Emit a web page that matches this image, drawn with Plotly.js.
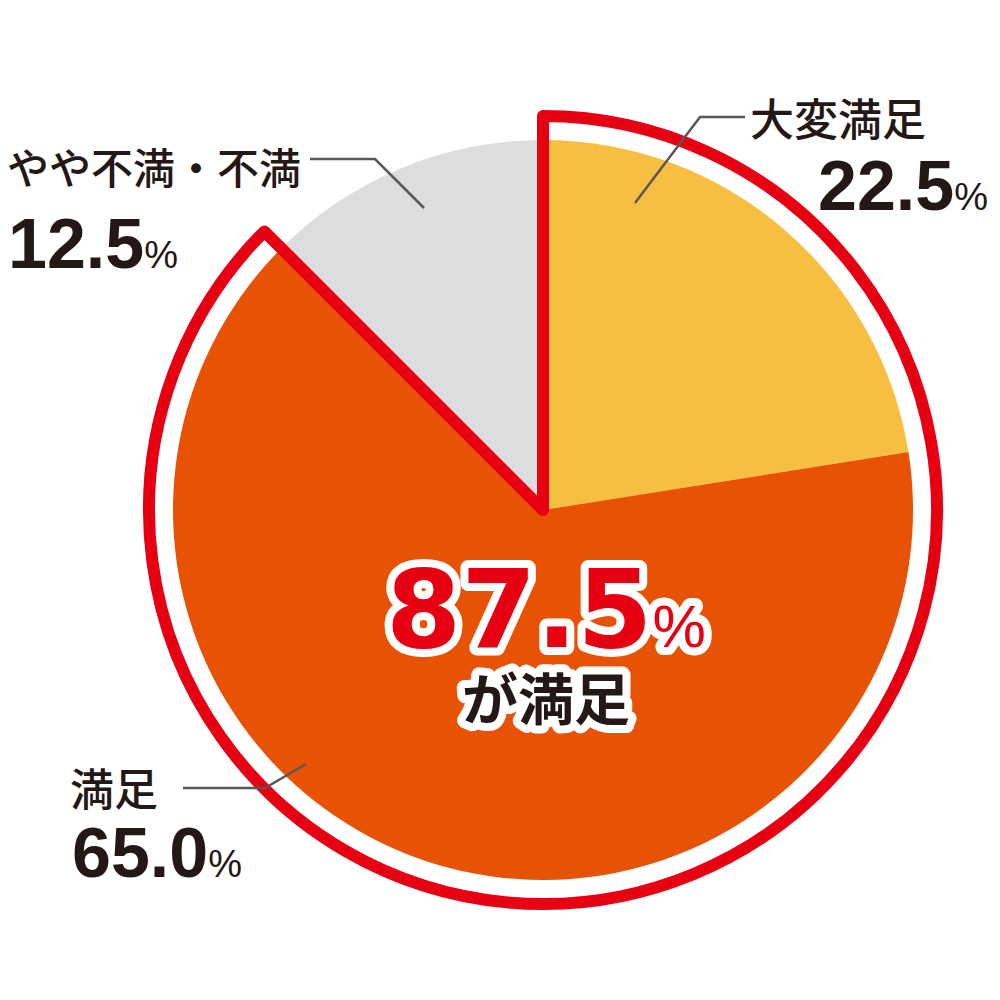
<!DOCTYPE html>
<html>
<head>
<meta charset="utf-8">
<script src="https://cdn.plot.ly/plotly-3.0.1.min.js"></script>
<style>
  html, body { margin: 0; padding: 0; background: #fff; }
  #chart { width: 1000px; height: 1000px; }
</style>
</head>
<body>
<div id="chart"></div>
<script>
    'use strict';

    // Survey results (percent)
    const categories = ['大変満足', '満足', 'やや不満・不満'];
    const shares = [22.5, 65.0, 12.5];
    const shareLabels = ['22.5', '65.0', '12.5'];
    const satisfiedLabel = '87.5';
    const satisfiedCaption = 'が満足';
    const sliceColors = ['#F7BF41', '#E85205', '#DCDDDD'];

    const RED = '#E60012';
    const INK = '#231815';
    const LEADER = '#595757';
    const JP_FONT = '"Noto Sans CJK JP", "Noto Sans", sans-serif';
    const NUM_FONT = '"Liberation Sans", Arial, sans-serif';
    const HEAVY_FONT = '"DejaVu Sans", "Liberation Sans", sans-serif';

    // Pie center and radius in page pixels
    const cx = 543, cy = 510, r = 370, ringR = 394;

    function domainFor(radius) {
        return {
            x: [(cx - radius) / 1000, (cx + radius) / 1000],
            y: [1 - (cy + radius) / 1000, 1 - (cy - radius) / 1000]
        };
    }

    // Satisfied total vs the rest, used for the red outline
    const satisfied = shares[0] + shares[1];
    const rest = shares[2];

    const pieTrace = {
        type: 'pie',
        labels: categories,
        values: shares,
        sort: false,
        direction: 'clockwise',
        rotation: 0,
        textinfo: 'none',
        hoverinfo: 'none',
        showlegend: false,
        marker: { colors: sliceColors, line: { width: 0 } },
        domain: domainFor(r)
    };

    const outlineTrace = {
        type: 'pie',
        labels: ['満足計', 'その他'],
        values: [satisfied, rest],
        sort: false,
        direction: 'clockwise',
        rotation: 0,
        textinfo: 'none',
        hoverinfo: 'none',
        showlegend: false,
        marker: {
            colors: ['rgba(0,0,0,0)', 'rgba(0,0,0,0)'],
            line: { color: [RED, 'rgba(0,0,0,0)'], width: [12, 0] }
        },
        domain: domainFor(ringR)
    };

    function pct(value, size) {
        return value + '<span style="font-size:' + size + 'px;font-weight:normal">%</span>';
    }

    function label(text, x, y, size) {
        return {
            text: text, xref: 'paper', yref: 'paper',
            x: x / 1000, y: 1 - y / 1000, xanchor: 'left', yanchor: 'middle',
            showarrow: false,
            font: { family: JP_FONT, size: size || 44, color: INK, weight: 500 }
        };
    }

    function value(text, x, y) {
        return {
            text: text, xref: 'paper', yref: 'paper',
            x: x / 1000, y: 1 - y / 1000, xanchor: 'left', yanchor: 'middle',
            showarrow: false,
            font: { family: NUM_FONT, size: 70, color: INK, weight: 'bold' }
        };
    }

    // Centre block: big red total over the black caption, one text so the outline is shared
    const centreText =
        '<span style="font-family:' + HEAVY_FONT.replace(/"/g, "'") + ';font-size:108px;color:' + RED + '">' +
        satisfiedLabel +
        '<span style="font-size:60px;font-weight:normal;font-family:\'Liberation Sans\'">%</span></span>' +
        '<br>' + satisfiedCaption;

    const annotations = [
        label(categories[0], 748, 117),
        value(pct(shareLabels[0], 38), 816, 186),
        label(categories[1], 68, 787),
        value(pct(shareLabels[1], 38), 70, 853),
        label(categories[2], 5, 165, 42),
        value(pct(shareLabels[2], 38), 6, 244),
        {
            text: centreText,
            xref: 'paper', yref: 'paper', x: 0.546, y: 1 - 641 / 1000,
            xanchor: 'center', yanchor: 'middle', align: 'center', showarrow: false,
            font: { family: JP_FONT, size: 56, color: INK, weight: 'bold' }
        }
    ];

    function leader(points) {
        const d = points.map((p, i) => (i ? 'L' : 'M') + (p[0] / 1000) + ',' + (1 - p[1] / 1000)).join(' ');
        return {
            type: 'path', xref: 'paper', yref: 'paper', path: d,
            line: { color: LEADER, width: 2.5 }
        };
    }

    const shapes = [
        leader([[745, 117], [700, 117], [635, 203]]),
        leader([[310, 159], [375, 159], [424, 208]]),
        leader([[183, 788], [265, 788], [306, 764]])
    ];

    const layout = {
        width: 1000,
        height: 1000,
        margin: { l: 0, r: 0, t: 0, b: 0 },
        paper_bgcolor: '#ffffff',
        plot_bgcolor: '#ffffff',
        showlegend: false,
        annotations: annotations,
        shapes: shapes
    };

    Plotly.newPlot('chart', [pieTrace, outlineTrace], layout, { displayModeBar: false, staticPlot: true })
        .then(function(gd) {
            // White outline behind the centre text
            gd.querySelectorAll('.annotation').forEach(function(g) {
                if (g.getAttribute('data-index') !== '6') return;
                const t = g.querySelector('.annotation-text');
                if (!t) return;
                t.style.stroke = '#ffffff';
                t.style.strokeWidth = '16px';
                t.style.strokeLinejoin = 'round';
                t.style.paintOrder = 'stroke fill';
            });
        });
</script>
</body>
</html>
